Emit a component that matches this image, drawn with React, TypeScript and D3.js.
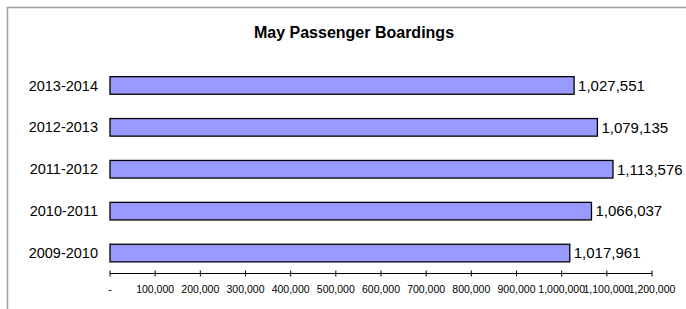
import React, { useEffect, useRef } from "react";
import * as d3 from "d3";

const categories = ["2013-2014", "2012-2013", "2011-2012", "2010-2011", "2009-2010"];
const boardings = [1027551, 1079135, 1113576, 1066037, 1017961];
const tickValues = [0, 100000, 200000, 300000, 400000, 500000, 600000, 700000, 800000, 900000, 1000000, 1100000, 1200000];

const W = 686;
const H = 309;

export default function App() {
  const ref = useRef<SVGSVGElement | null>(null);

  useEffect(() => {
    const svg = d3.select(ref.current);
    svg.selectAll("*").remove();
    const font = "Liberation Sans, Arial, sans-serif";

    // outer chart frame
    svg
      .append("path")
      .attr("d", `M7.5,${H} V7.5 H${W}`)
      .attr("fill", "none")
      .attr("stroke", "#a0a0a0")
      .attr("stroke-width", 1.5);

    svg
      .append("text")
      .attr("x", 354)
      .attr("y", 38)
      .attr("text-anchor", "middle")
      .attr("font-family", font)
      .attr("font-size", 16)
      .attr("font-weight", "bold")
      .text("May Passenger Boardings");

    const x = d3.scaleLinear().domain([0, 1200000]).range([110, 652]);
    const y = d3.scaleBand().domain(categories).range([64.5, 274]).paddingInner(0.58).paddingOuter(0.29);

    const rows = svg
      .selectAll("g.row")
      .data(categories)
      .enter()
      .append("g")
      .attr("class", "row");

    rows
      .append("rect")
      .attr("x", x(0))
      .attr("y", (d) => y(d)!)
      .attr("width", (d, i) => x(boardings[i]) - x(0))
      .attr("height", y.bandwidth())
      .attr("fill", "#9999ff")
      .attr("stroke", "#000")
      .attr("stroke-width", 1.3);

    rows
      .append("text")
      .attr("x", 98)
      .attr("y", (d) => y(d)! + y.bandwidth() / 2)
      .attr("dy", "0.35em")
      .attr("text-anchor", "end")
      .attr("font-family", font)
      .attr("font-size", 14.5)
      .text((d) => d);

    rows
      .append("text")
      .attr("x", (d, i) => x(boardings[i]) + 4)
      .attr("y", (d) => y(d)! + y.bandwidth() / 2)
      .attr("dy", "0.35em")
      .attr("font-family", font)
      .attr("font-size", 15)
      .text((d, i) => d3.format(",")(boardings[i]));

    // x axis
    const axisY = 273.5;
    svg
      .append("line")
      .attr("x1", x(0))
      .attr("x2", x(1200000))
      .attr("y1", axisY)
      .attr("y2", axisY)
      .attr("stroke", "#000");

    const ticks = svg.selectAll("g.tick").data(tickValues).enter().append("g").attr("class", "tick");
    ticks
      .append("line")
      .attr("x1", (d) => x(d))
      .attr("x2", (d) => x(d))
      .attr("y1", axisY - 3)
      .attr("y2", axisY + 3)
      .attr("stroke", "#000");
    ticks
      .append("text")
      .attr("x", (d) => x(d))
      .attr("y", axisY + 19)
      .attr("text-anchor", "middle")
      .attr("font-family", font)
      .attr("font-size", 10.5)
      .text((d) => (d === 0 ? "-" : d3.format(",")(d)));
  }, []);

  return <svg ref={ref} width={W} height={H} style={{ position: "absolute", left: 0, top: 0, background: "#fff" }} />;
}
